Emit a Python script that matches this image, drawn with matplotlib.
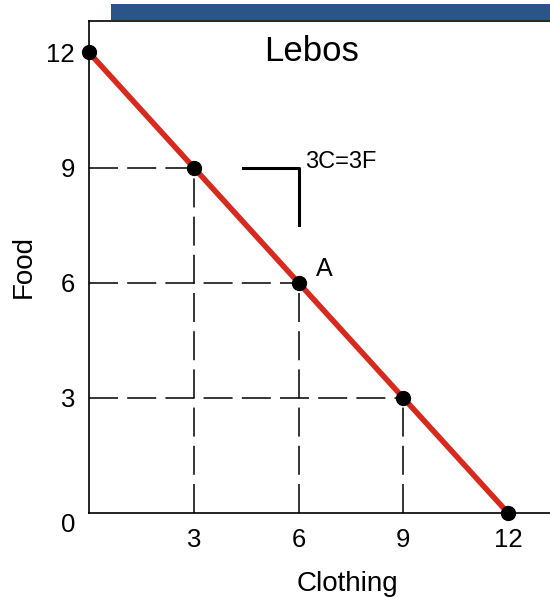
import matplotlib
matplotlib.use("Agg")
import matplotlib.pyplot as plt
from matplotlib.patches import Rectangle

plt.rcParams['font.family'] = ['Liberation Sans', 'DejaVu Sans']

clothing = [0, 3, 6, 9, 12]
food = [12, 9, 6, 3, 0]
xticks = [3, 6, 9, 12]
yticks = [0, 3, 6, 9, 12]
guide_points_x = [3, 6, 9]
guide_points_y = [9, 6, 3]
title = "Lebos"
point_label = "A"
ratio_label = "3C=3F"

fig = plt.figure(figsize=(5.5, 5.97), dpi=100)
ax = fig.add_axes([89/550, 1 - 513/597, 1 - 89/550, (513 - 21)/597])
ax.set_xlim(0, 13.2)
ax.set_ylim(0, 12.82)

# blue header bar
fig.patches.append(Rectangle((111/550, 1 - 20/597), 1 - 111/550, 16/597,
                             transform=fig.transFigure, facecolor='#2b5588',
                             edgecolor='none', zorder=0))

# dashed guides
for gx, gy in zip(guide_points_x, guide_points_y):
    ax.plot([0, gx], [gy, gy], color='black', lw=1.1, dashes=(19, 6), zorder=2)
    ax.plot([gx, gx], [0, gy], color='black', lw=1.1, dashes=(19, 6), zorder=2)

ax.plot(clothing, food, color='#d62a1e', lw=4.0, zorder=3, clip_on=False,
        solid_capstyle='butt')
ax.plot(clothing, food, 'o', color='black', ms=10, zorder=4, clip_on=False)

# slope bracket
ax.plot([4.4, 6.0, 6.0], [9.0, 9.0, 7.5], color='black', lw=2.2, zorder=2)

ax.text(6.2, 9.15, ratio_label, fontsize=17, ha='left', va='center')
ax.text(6.5, 6.35, point_label, fontsize=18, ha='left', va='center')
ax.text(6.38, 12.03, title, fontsize=25, ha='center', va='center')

ax.set_xticks(xticks)
ax.set_yticks(yticks)
ax.tick_params(length=0, labelsize=18.5)
ax.tick_params(axis='x', pad=11)
ax.tick_params(axis='y', pad=10)
ax.get_yticklabels()[0].set_va('top')
ax.set_xlabel("Clothing", fontsize=20)
ax.set_ylabel("Food", fontsize=20, labelpad=7)
ax.xaxis.set_label_coords(0.56, -0.118)

ax.spines['right'].set_visible(False)
for s in ['left', 'top', 'bottom']:
    ax.spines[s].set_linewidth(1.2)

fig.savefig("out.png", dpi=100)
